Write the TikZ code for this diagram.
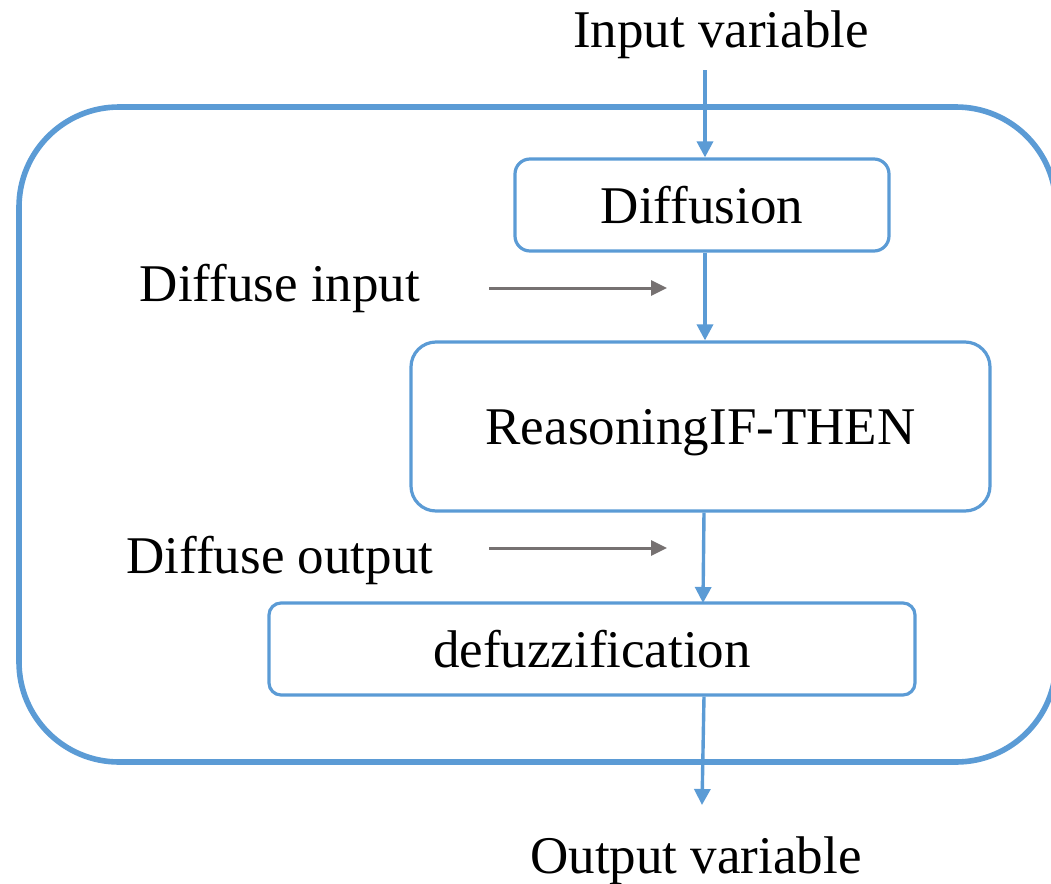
\documentclass[tikz,border=0pt]{standalone}
\usepackage{fontspec}
\setmainfont{Liberation Serif}
\usetikzlibrary{arrows.meta}
\definecolor{lineblue}{HTML}{5B9BD5}
\definecolor{arrowgray}{HTML}{767171}

\begin{document}
\begin{tikzpicture}[x=0.5pt,y=-0.5pt,
    every node/.style={font=\fontsize{26.5}{32}\selectfont},
    box/.style={draw=lineblue,line width=1.6pt,inner sep=0pt},
    label/.style={inner sep=0pt,anchor=base},
    flow/.style={draw=lineblue,line width=1.7pt,-{Triangle[length=8pt,width=8pt,fill=lineblue]}},
    side/.style={draw=arrowgray,line width=1.5pt,-{Triangle[length=8pt,width=7.5pt,fill=arrowgray]}}]
    \useasboundingbox (0,0) rectangle (1051,884);
    \draw[line width=2.8pt,lineblue,rounded corners=50pt] (19,107) rectangle (1056,762);
    \node[box,minimum width=187pt,minimum height=46pt,rounded corners=7.5pt] (diff) at (702,205) {Diffusion};
    \node[box,minimum width=289.5pt,minimum height=84.5pt,rounded corners=12.5pt,text depth=0pt] (reason) at (700.5,426.5) {ReasoningIF-THEN};
    \node[box,minimum width=323pt,minimum height=46pt,rounded corners=6pt] (defuzz) at (592,649) {defuzzification};
    \node[label] (invar) at (721,47) {Input variable};
    \node[label] (outvar) at (696,873) {Output variable};
    \node[label] (dinput) at (280,301) {Diffuse input};
    \node[label] (doutput) at (280,573) {Diffuse output};
    % main flow
    \coordinate (intop) at (705,70);
    \coordinate (outend) at (702,805);
    \coordinate (mid) at (704,0);
    \draw[flow] (intop) -- (intop |- diff.north);
    \draw[flow] (intop |- diff.south) -- (intop |- reason.north);
    \draw[flow] (mid |- reason.south) -- (703,603);
    \draw[flow] (mid |- defuzz.south) -- (outend);
    % side arrows
    \coordinate (ina) at (489,288);
    \coordinate (inb) at (667,288);
    \coordinate (outa) at (489,548);
    \coordinate (outb) at (667,548);
    \draw[side] (ina) -- (inb);
    \draw[side] (outa) -- (outb);
\end{tikzpicture}
\end{document}
